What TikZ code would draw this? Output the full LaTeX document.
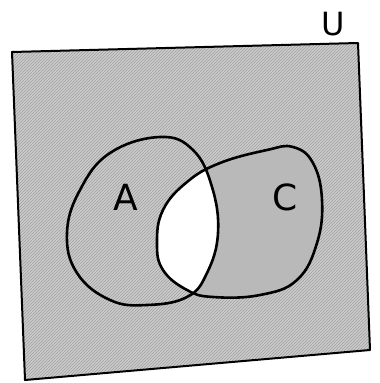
\documentclass[tikz,border=0pt]{standalone}
\usepackage{fontspec}
\setmainfont{DejaVu Sans}
\usetikzlibrary{patterns}
\begin{document}
\begin{tikzpicture}[x=1pt,y=-1pt,
  outline/.style={draw=black,line width=2.6pt,line join=round},
  lbl/.style={font=\fontsize{36}{36}\selectfont,inner sep=0pt}]
\useasboundingbox (0,0) rectangle (380,383);
\def\pathA{plot[smooth cycle,tension=0.7] coordinates {(160,137) (110,153) (80,190) (67,233) (77,273) (110,300) (147,305) (187,297) (207,273) (218,233) (212,187) (193,150)}}
\def\pathC{plot[smooth cycle,tension=0.7] coordinates {(157,243) (163,210) (187,182) (220,163) (267,150) (293,147) (313,163) (322,200) (317,243) (297,280) (260,295) (213,297) (187,290) (163,270)}}
% universe
\coordinate (tl) at (12,52);
\coordinate (tr) at (358,43);
\coordinate (br) at (370,350);
\coordinate (bl) at (25,380);
\fill[gray!40] (tl) -- (tr) -- (br) -- (bl) -- cycle;
\fill[pattern=north east lines,pattern color=gray!75] (tl) -- (tr) -- (br) -- (bl) -- cycle;
% C darker
\fill[gray!55] \pathC;
% intersection white
\begin{scope}
  \clip \pathA;
  \fill[white] \pathC;
\end{scope}
\draw[line width=2pt,line join=round] (tl) -- (tr) -- (br) -- (bl) -- cycle;
\draw[outline] \pathA;
\draw[outline] \pathC;
\node[lbl] (la) at (126,197) {A};
\node[lbl] (lc) at (285,197) {C};
\node[lbl,font=\fontsize{32}{32}\selectfont] (lu) at (333,24) {U};
\end{tikzpicture}
\end{document}
